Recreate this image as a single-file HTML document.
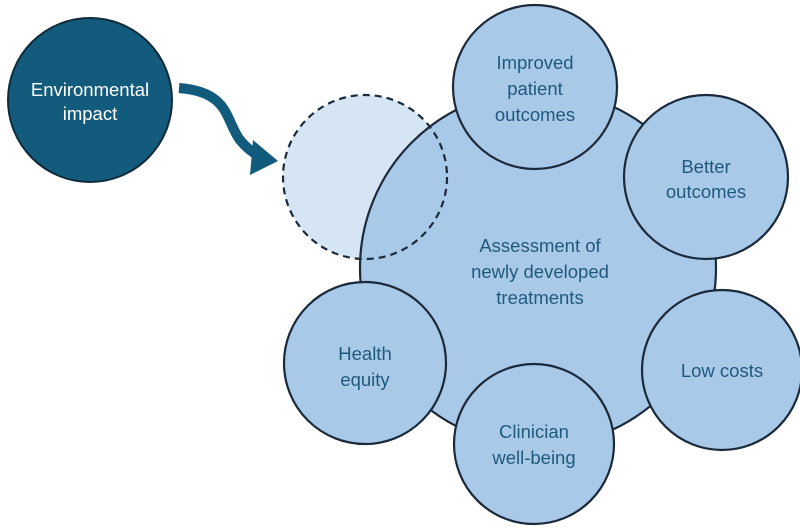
<!DOCTYPE html>
<html><head><meta charset="utf-8"><style>
html,body{margin:0;padding:0;background:#fff;}
svg{display:block}
text{font-family:"Liberation Sans",sans-serif;font-size:18.5px;fill:#1f5a7c;text-anchor:middle}
</style></head><body>
<svg width="800" height="530" viewBox="0 0 800 530">
<circle cx="90" cy="100" r="82" fill="#135b7c" stroke="#0f2a3a" stroke-width="2"/>
<text x="90" y="96" style="fill:#fff">Environmental</text>
<text x="90" y="120" style="fill:#fff">impact</text>
<path d="M179,88 C230,92 225,120 240,140 C250,152 258,156 266,158" fill="none" stroke="#135b7c" stroke-width="10"/>
<polygon points="253,140 278,161 250,175" fill="#135b7c"/>
<circle cx="365" cy="177" r="82" fill="#d6e5f4"/>
<circle cx="538" cy="268" r="178" fill="#a9c9e9" stroke="#1a2a3a" stroke-width="2.2"/>
<circle cx="365" cy="177" r="82" fill="none" stroke="#1a2a3a" stroke-width="2.2" stroke-dasharray="7,5"/>
<text x="540" y="252">Assessment of</text>
<text x="540" y="278">newly developed</text>
<text x="540" y="304">treatments</text>
<g fill="#a9c9e9" stroke="#1a2a3a" stroke-width="2.2">
<circle cx="535" cy="87" r="82"/>
<circle cx="706" cy="177" r="82"/>
<circle cx="722" cy="370" r="80"/>
<circle cx="534" cy="444" r="80"/>
<circle cx="365" cy="363" r="81"/>
</g>
<text x="535" y="69">Improved</text>
<text x="535" y="95">patient</text>
<text x="535" y="121">outcomes</text>
<text x="706" y="173">Better</text>
<text x="706" y="198">outcomes</text>
<text x="722" y="377">Low costs</text>
<text x="534" y="438">Clinician</text>
<text x="534" y="464">well-being</text>
<text x="365" y="360">Health</text>
<text x="365" y="386">equity</text>
</svg>
</body></html>
